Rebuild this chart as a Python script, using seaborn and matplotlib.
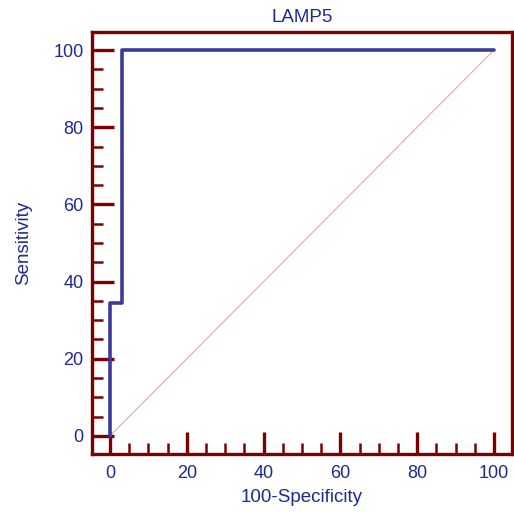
import matplotlib
matplotlib.use("Agg")
import matplotlib.pyplot as plt
import seaborn as sns
import pandas as pd
from matplotlib.ticker import MultipleLocator

sns.set_style("white")
plt.rcParams['font.family'] = ['Liberation Sans', 'DejaVu Sans']

# ROC curve data
fpr = [0, 0, 3, 3, 100]        # 100-Specificity
tpr = [0, 34.4, 34.4, 100, 100]  # Sensitivity
diag = [0, 100]
title = "LAMP5"
xlabel = "100-Specificity"
ylabel = "Sensitivity"
major_ticks = [0, 20, 40, 60, 80, 100]

maroon = "#7d0000"
blue_txt = "#1f2a8f"
line_blue = "#3b3b9c"
pink = "#e3a8a8"

fig = plt.figure(figsize=(5.14, 5.12), dpi=100)
ax = fig.add_axes([92/514, 1-454/512, (512-92)/514, (454-32)/512])

df = pd.DataFrame({"x": fpr, "y": tpr})
ddf = pd.DataFrame({"x": diag, "y": diag})
sns.lineplot(data=ddf, x="x", y="y", ax=ax, color=pink, linewidth=0.8,
             sort=False, estimator=None)
sns.lineplot(data=df, x="x", y="y", ax=ax, color=line_blue, linewidth=2.6,
             sort=False, estimator=None)

ax.set_xlim(-4.7, 104.7)
ax.set_ylim(-4.7, 104.7)
ax.set_xticks(major_ticks)
ax.set_yticks(major_ticks)
ax.xaxis.set_minor_locator(MultipleLocator(5))
ax.yaxis.set_minor_locator(MultipleLocator(5))
ax.tick_params(which="major", direction="in", length=16, width=2.4, color=maroon,
               labelsize=13, labelcolor=blue_txt, top=False, right=False,
               bottom=True, left=True)
ax.tick_params(axis="x", which="major", pad=8)
ax.tick_params(axis="y", which="major", pad=6)
ax.tick_params(which="minor", direction="in", length=8, width=1.8, color=maroon,
               top=False, right=False, bottom=True, left=True)
for s in ax.spines.values():
    s.set_color(maroon)
    s.set_linewidth(2.4)
    s.set_visible(True)

ax.set_title(title, color=blue_txt, fontsize=13.5, pad=7)
ax.set_xlabel(xlabel, color=blue_txt, fontsize=13.5, labelpad=5)
ax.set_ylabel(ylabel, color=blue_txt, fontsize=13.5, labelpad=15)

fig.savefig("out.png", dpi=100)
